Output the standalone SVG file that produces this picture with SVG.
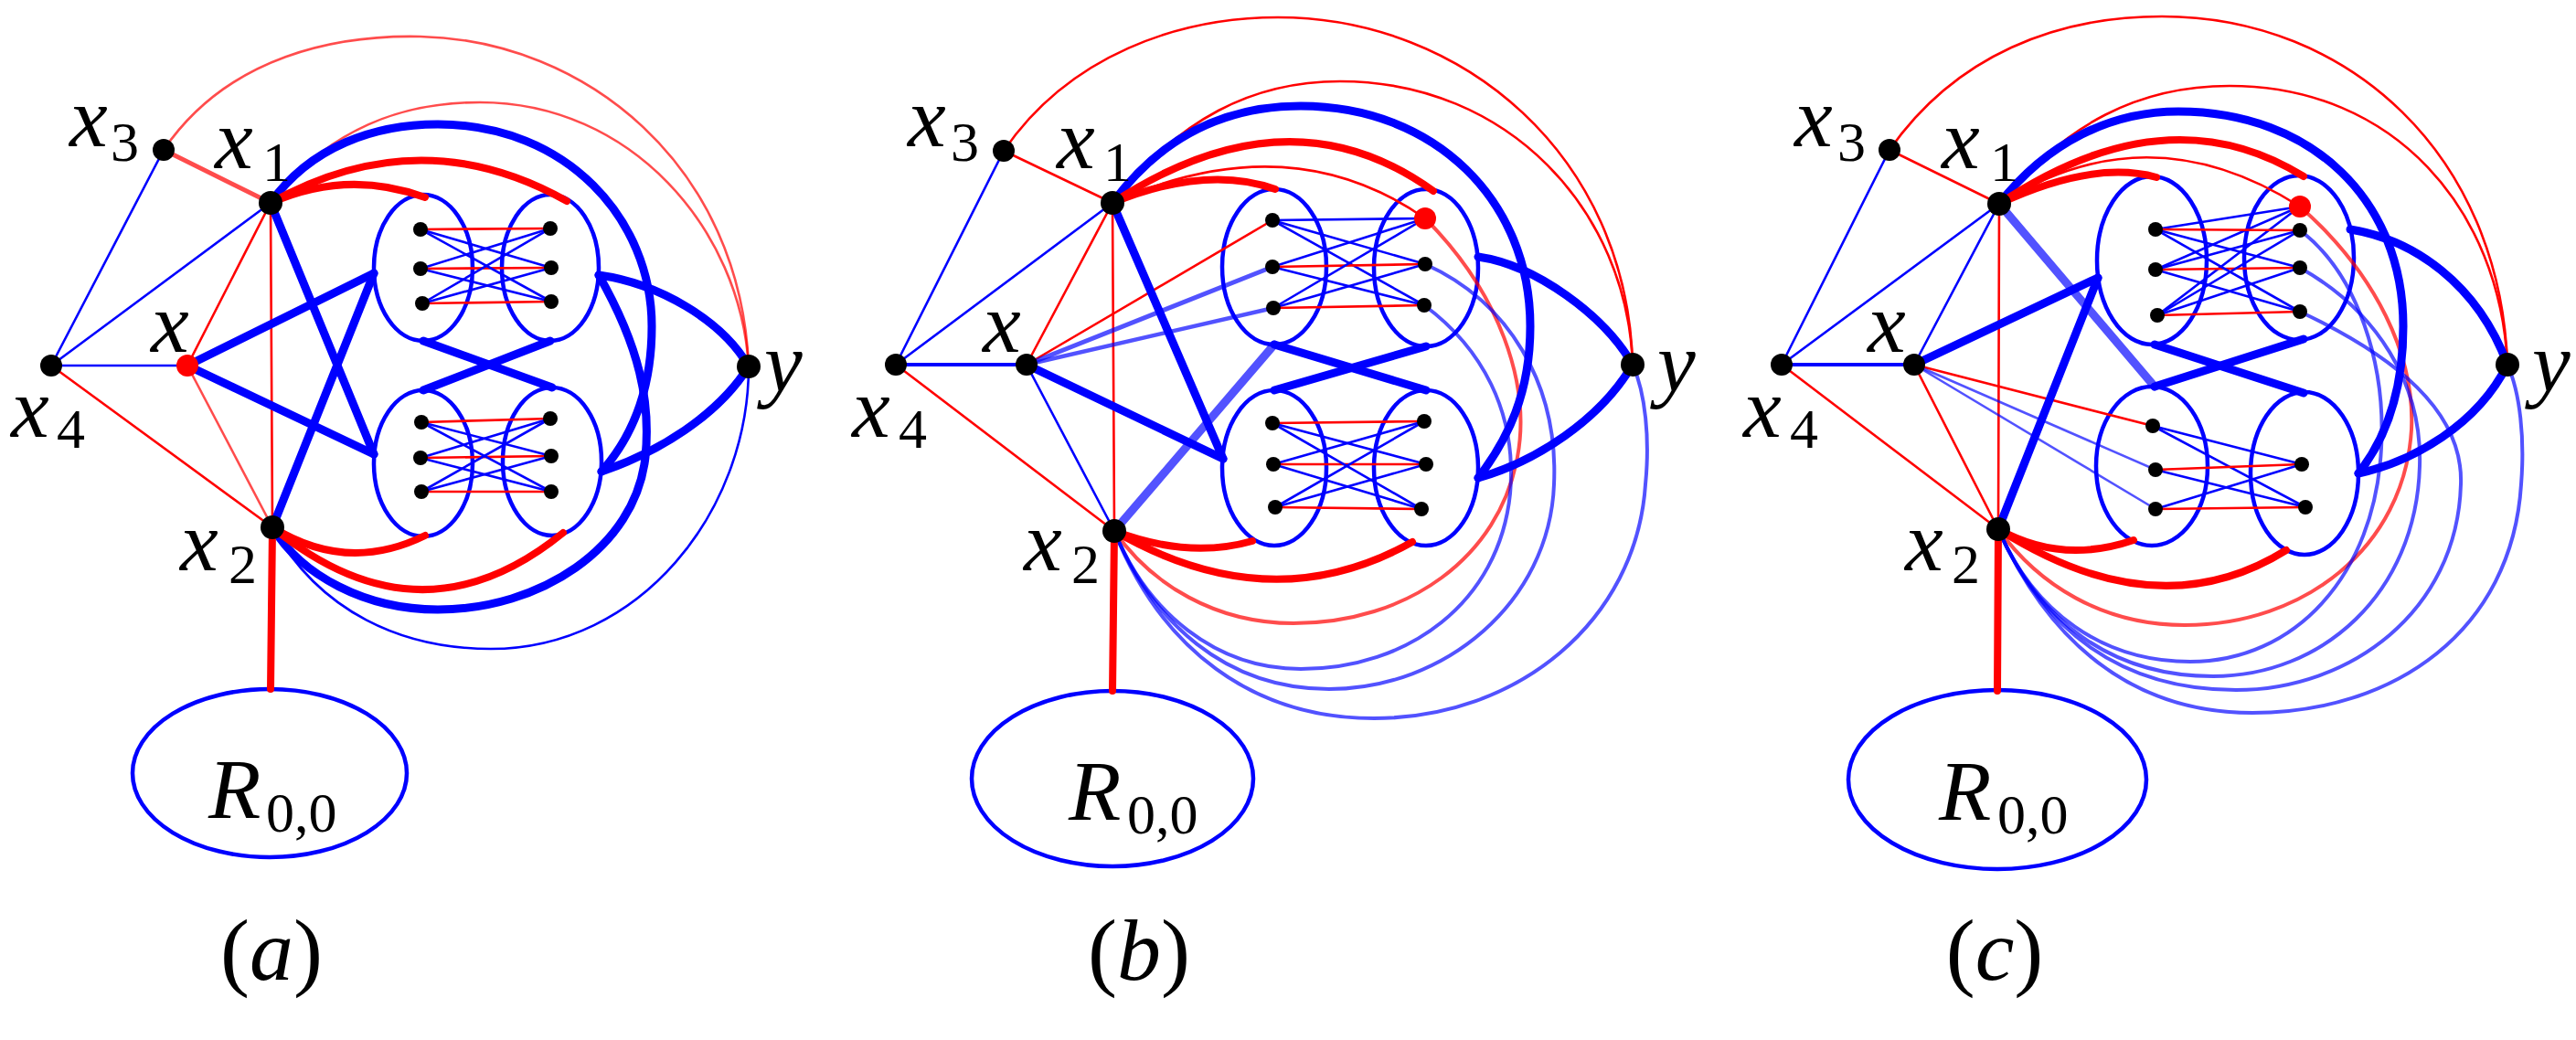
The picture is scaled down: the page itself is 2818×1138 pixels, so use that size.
<svg xmlns="http://www.w3.org/2000/svg" width="2818" height="1138" viewBox="0 0 2818 1138">
<style>
.b{stroke:#0000ff;fill:none;stroke-linecap:round}
.r{stroke:#ff0000;fill:none;stroke-linecap:round}
.lb{stroke:#0000ff;stroke-opacity:.68;fill:none;stroke-linecap:round}
.lr{stroke:#ff0000;stroke-opacity:.7;fill:none;stroke-linecap:round}
.t{stroke-width:2.6}
.m{stroke-width:4}
.k{stroke-width:9}
.kr{stroke-width:8}
.ell{fill:none;stroke:#0000ff;stroke-width:4.5}
.n{fill:#000}
.nr{fill:#ff0000}
text{font-family:'Liberation Serif','Times New Roman',serif;fill:#000}
.v{font-style:italic;font-size:94px}
.s{font-style:normal;font-size:62px}
.p{font-style:normal;font-size:96px}
</style>

<!-- ===================== PANEL A ===================== -->
<g id="panel-a">
<g id="a-ellipses">
<g id="a-UL"><ellipse class="ell" cx="463" cy="293" rx="54" ry="80"/></g>
<g id="a-UR"><ellipse class="ell" cx="602" cy="293" rx="53" ry="80"/></g>
<g id="a-LL"><ellipse class="ell" cx="463" cy="507" rx="54" ry="80"/></g>
<g id="a-LR"><ellipse class="ell" cx="604" cy="505" rx="54" ry="81"/></g>
<g id="a-R00"><ellipse class="ell" cx="295" cy="846" rx="150" ry="92"/>
<text class="v" x="228" y="895">R</text><text class="s" x="291" y="910">0,0</text></g>
</g>
<g id="a-connectors">
<line class="lr" stroke-width="5" x1="179" y1="164" x2="296" y2="222"/>
<line class="b t" x1="179" y1="164" x2="56" y2="400"/>
<line class="b t" x1="56" y1="400" x2="296" y2="222"/>
<line class="b t" x1="56" y1="400" x2="205" y2="400"/>
<line class="r t" x1="56" y1="400" x2="298" y2="577"/>
<line class="r t" x1="205" y1="400" x2="296" y2="222"/>
<line class="lr t" x1="205" y1="400" x2="298" y2="577"/>
<line class="r t" x1="296" y1="222" x2="298" y2="577"/>
<path class="lr t" d="M179,164 C250,60 370,38 460,40 C640,44 810,180 819,401"/>
<path class="lr t" d="M296,222 C360,140 440,112 525,112 C690,112 810,250 819,401"/>
<path class="b t" d="M298,577 C350,670 440,710 537,710 C700,710 819,560 819,401"/>
<path class="b k" d="M296,222 C340,160 410,136 479,136 C620,136 713,240 713,357 C713,430 690,480 658,516"/>
<path class="b k" d="M655,301 C700,380 712,440 706,500 C695,600 590,667 479,667 C400,667 330,630 298,577"/>
<path class="b k" d="M655,301 C720,310 790,350 819,401"/>
<path class="b k" d="M658,516 C720,495 785,455 819,401"/>
<path class="r kr" d="M296,222 Q380,185 465,216"/>
<path class="r kr" d="M296,222 Q460,130 620,220"/>
<path class="r kr" d="M298,577 Q380,628 465,586"/>
<path class="r kr" d="M298,577 Q460,710 616,583"/>
<line class="b k" x1="205" y1="400" x2="409" y2="299"/>
<line class="b k" x1="205" y1="400" x2="409" y2="497"/>
<line class="b k" x1="296" y1="222" x2="409" y2="497"/>
<line class="b k" x1="298" y1="577" x2="409" y2="299"/>
<line class="b k" x1="463" y1="373" x2="604" y2="424"/>
<line class="b k" x1="602" y1="373" x2="463" y2="427"/>
<line class="r kr" x1="298" y1="577" x2="296" y2="754"/>
<line class="r t" x1="460" y1="251" x2="602" y2="250"/>
<line class="r t" x1="460" y1="294" x2="603" y2="293"/>
<line class="r t" x1="462" y1="332" x2="603" y2="330"/>
<line class="b t" x1="460" y1="251" x2="603" y2="293"/>
<line class="b t" x1="460" y1="251" x2="603" y2="330"/>
<line class="b t" x1="460" y1="294" x2="602" y2="250"/>
<line class="b t" x1="460" y1="294" x2="603" y2="330"/>
<line class="b t" x1="462" y1="332" x2="602" y2="250"/>
<line class="b t" x1="462" y1="332" x2="603" y2="293"/>
<line class="r t" x1="461" y1="462" x2="602" y2="458"/>
<line class="r t" x1="460" y1="501" x2="603" y2="499"/>
<line class="r t" x1="461" y1="538" x2="603" y2="538"/>
<line class="b t" x1="461" y1="462" x2="603" y2="499"/>
<line class="b t" x1="461" y1="462" x2="603" y2="538"/>
<line class="b t" x1="460" y1="501" x2="602" y2="458"/>
<line class="b t" x1="460" y1="501" x2="603" y2="538"/>
<line class="b t" x1="461" y1="538" x2="602" y2="458"/>
<line class="b t" x1="461" y1="538" x2="603" y2="499"/>
</g>
<g id="a-dots">
<circle class="n" cx="460" cy="251" r="8"/><circle class="n" cx="460" cy="294" r="8"/><circle class="n" cx="462" cy="332" r="8"/>
<circle class="n" cx="602" cy="250" r="8"/><circle class="n" cx="603" cy="293" r="8"/><circle class="n" cx="603" cy="330" r="8"/>
<circle class="n" cx="461" cy="462" r="8"/><circle class="n" cx="460" cy="501" r="8"/><circle class="n" cx="461" cy="538" r="8"/>
<circle class="n" cx="602" cy="458" r="8"/><circle class="n" cx="603" cy="499" r="8"/><circle class="n" cx="603" cy="538" r="8"/>
</g>
<g id="a-x3"><circle class="n" cx="179" cy="164" r="12"/><text class="v" x="76" y="160">x</text><text class="s" x="121" y="176">3</text></g>
<g id="a-x1"><circle class="n" cx="296" cy="222" r="13"/><text class="v" x="235" y="184">x</text><text class="s" x="287" y="198">1</text></g>
<g id="a-x4"><circle class="n" cx="56" cy="400" r="12"/><text class="v" x="12" y="478">x</text><text class="s" x="62" y="490">4</text></g>
<g id="a-x"><circle class="nr" cx="205" cy="400" r="12"/><text class="v" x="165" y="385">x</text></g>
<g id="a-x2"><circle class="n" cx="298" cy="577" r="13"/><text class="v" x="197" y="624">x</text><text class="s" x="250" y="638">2</text></g>
<g id="a-y"><circle class="n" cx="819" cy="401" r="13"/><text class="v" x="836" y="428">y</text></g>
<text class="p" x="297" y="1072" text-anchor="middle">(<tspan font-style="italic">a</tspan>)</text>
</g>

<!-- ===================== PANEL B ===================== -->
<g id="panel-b">
<g id="b-ellipses">
<g id="b-UL"><ellipse class="ell" cx="1394" cy="292" rx="57" ry="85"/></g>
<g id="b-UR"><ellipse class="ell" cx="1560" cy="293" rx="57" ry="86"/></g>
<g id="b-LL"><ellipse class="ell" cx="1394" cy="512" rx="57" ry="85"/></g>
<g id="b-LR"><ellipse class="ell" cx="1560" cy="512" rx="57" ry="85"/></g>
<g id="b-R00"><ellipse class="ell" cx="1217" cy="852" rx="154" ry="96"/>
<text class="v" x="1169" y="897">R</text><text class="s" x="1233" y="912">0,0</text></g>
</g>
<g id="b-connectors">
<line class="r t" x1="1098" y1="165" x2="1217" y2="222"/>
<line class="b t" x1="1098" y1="165" x2="980" y2="399"/>
<line class="b t" x1="980" y1="399" x2="1217" y2="222"/>
<line class="b m" x1="980" y1="399" x2="1123" y2="399"/>
<line class="r t" x1="980" y1="399" x2="1219" y2="581"/>
<line class="r t" x1="1123" y1="399" x2="1217" y2="222"/>
<line class="b t" x1="1123" y1="399" x2="1219" y2="581"/>
<line class="r t" x1="1217" y1="222" x2="1219" y2="581"/>
<line class="r t" x1="1123" y1="399" x2="1392" y2="241"/>
<line class="lb" stroke-width="5" x1="1123" y1="399" x2="1392" y2="292"/>
<line class="lb" stroke-width="4.5" x1="1123" y1="399" x2="1393" y2="337"/>
<path class="r t" d="M1098,165 C1170,60 1290,19 1398,19 C1600,19 1780,170 1786,399"/>
<path class="r t" d="M1217,222 C1290,130 1370,89 1466,89 C1650,89 1780,230 1786,399"/>
<path class="r t" d="M1217,222 Q1410,135 1559,239"/>
<path class="lr m" d="M1559,239 C1640,320 1675,420 1660,500 C1640,610 1540,682 1415,682 C1330,682 1260,640 1219,581"/>
<path class="lb m" d="M1558,334 C1620,380 1660,450 1652,540 C1640,660 1540,732 1423,732 C1330,732 1255,670 1219,581"/>
<path class="lb m" d="M1559,289 C1650,330 1705,420 1700,530 C1695,660 1580,754 1454,754 C1340,754 1260,680 1219,581"/>
<path class="lb m" d="M1786,399 C1800,430 1805,480 1800,530 C1790,680 1660,786 1503,786 C1370,786 1270,710 1219,581"/>
<path class="b k" d="M1217,222 C1270,150 1340,116 1423,116 C1570,116 1674,220 1674,357 C1674,430 1650,480 1617,523"/>
<path class="b k" d="M1617,281 C1680,290 1755,345 1786,399"/>
<path class="b k" d="M1617,523 C1680,505 1750,460 1786,399"/>
<path class="r kr" d="M1217,222 Q1320,180 1395,207"/>
<path class="r kr" d="M1217,222 Q1410,95 1568,209"/>
<path class="r kr" d="M1219,581 Q1300,612 1370,592"/>
<path class="r kr" d="M1219,581 Q1390,680 1545,593"/>
<line class="b k" x1="1123" y1="399" x2="1338" y2="502"/>
<line class="b k" x1="1217" y1="222" x2="1338" y2="502"/>
<line class="lb k" x1="1219" y1="581" x2="1394" y2="377"/>
<line class="b k" x1="1394" y1="377" x2="1560" y2="427"/>
<line class="b k" x1="1560" y1="379" x2="1394" y2="427"/>
<line class="r kr" x1="1219" y1="581" x2="1217" y2="756"/>
<line class="b t" x1="1392" y1="241" x2="1559" y2="239"/>
<line class="b t" x1="1392" y1="241" x2="1559" y2="289"/>
<line class="b t" x1="1392" y1="241" x2="1558" y2="334"/>
<line class="b t" x1="1392" y1="292" x2="1559" y2="239"/>
<line class="r t" x1="1392" y1="292" x2="1559" y2="289"/>
<line class="b t" x1="1392" y1="292" x2="1558" y2="334"/>
<line class="b t" x1="1393" y1="337" x2="1559" y2="239"/>
<line class="b t" x1="1393" y1="337" x2="1559" y2="289"/>
<line class="r t" x1="1393" y1="337" x2="1558" y2="334"/>
<line class="r t" x1="1392" y1="463" x2="1558" y2="461"/>
<line class="r t" x1="1393" y1="508" x2="1560" y2="508"/>
<line class="r t" x1="1395" y1="555" x2="1555" y2="557"/>
<line class="b t" x1="1392" y1="463" x2="1560" y2="508"/>
<line class="b t" x1="1392" y1="463" x2="1555" y2="557"/>
<line class="b t" x1="1393" y1="508" x2="1558" y2="461"/>
<line class="b t" x1="1393" y1="508" x2="1555" y2="557"/>
<line class="b t" x1="1395" y1="555" x2="1558" y2="461"/>
<line class="b t" x1="1395" y1="555" x2="1560" y2="508"/>
</g>
<g id="b-dots">
<circle class="n" cx="1392" cy="241" r="8"/><circle class="n" cx="1392" cy="292" r="8"/><circle class="n" cx="1393" cy="337" r="8"/>
<circle class="nr" cx="1559" cy="239" r="12"/><circle class="n" cx="1559" cy="289" r="8"/><circle class="n" cx="1558" cy="334" r="8"/>
<circle class="n" cx="1392" cy="463" r="8"/><circle class="n" cx="1393" cy="508" r="8"/><circle class="n" cx="1395" cy="555" r="8"/>
<circle class="n" cx="1558" cy="461" r="8"/><circle class="n" cx="1560" cy="508" r="8"/><circle class="n" cx="1555" cy="557" r="8"/>
</g>
<g id="b-x3"><circle class="n" cx="1098" cy="165" r="12"/><text class="v" x="993" y="160">x</text><text class="s" x="1040" y="176">3</text></g>
<g id="b-x1"><circle class="n" cx="1217" cy="222" r="13"/><text class="v" x="1156" y="184">x</text><text class="s" x="1207" y="198">1</text></g>
<g id="b-x4"><circle class="n" cx="980" cy="399" r="12"/><text class="v" x="932" y="478">x</text><text class="s" x="983" y="490">4</text></g>
<g id="b-x"><circle class="n" cx="1123" cy="399" r="12"/><text class="v" x="1075" y="385">x</text></g>
<g id="b-x2"><circle class="n" cx="1219" cy="581" r="13"/><text class="v" x="1120" y="624">x</text><text class="s" x="1172" y="638">2</text></g>
<g id="b-y"><circle class="n" cx="1786" cy="399" r="13"/><text class="v" x="1813" y="428">y</text></g>
<text class="p" x="1246" y="1072" text-anchor="middle">(<tspan font-style="italic">b</tspan>)</text>
</g>

<!-- ===================== PANEL C ===================== -->
<g id="panel-c">
<g id="c-ellipses">
<g id="c-UL"><ellipse class="ell" cx="2354" cy="285" rx="60" ry="92"/></g>
<g id="c-UR"><ellipse class="ell" cx="2515" cy="282" rx="60" ry="90"/></g>
<g id="c-LL"><ellipse class="ell" cx="2354" cy="510" rx="61" ry="87"/></g>
<g id="c-LR"><ellipse class="ell" cx="2521" cy="518" rx="59" ry="89"/></g>
<g id="c-R00"><ellipse class="ell" cx="2185" cy="853" rx="163" ry="98"/>
<text class="v" x="2121" y="897">R</text><text class="s" x="2185" y="912">0,0</text></g>
</g>
<g id="c-connectors">
<line class="r t" x1="2067" y1="164" x2="2187" y2="223"/>
<line class="b t" x1="2067" y1="164" x2="1949" y2="399"/>
<line class="b t" x1="1949" y1="399" x2="2187" y2="223"/>
<line class="b m" x1="1949" y1="399" x2="2094" y2="399"/>
<line class="r t" x1="1949" y1="399" x2="2186" y2="579"/>
<line class="b t" x1="2094" y1="399" x2="2187" y2="223"/>
<line class="r t" x1="2094" y1="399" x2="2186" y2="579"/>
<line class="r t" x1="2187" y1="223" x2="2186" y2="579"/>
<line class="r t" x1="2094" y1="399" x2="2355" y2="466"/>
<line class="lb t" x1="2094" y1="399" x2="2358" y2="514"/>
<line class="lb t" x1="2094" y1="399" x2="2358" y2="557"/>
<path class="r t" d="M2067,164 C2140,60 2250,18 2365,18 C2570,18 2735,170 2743,399"/>
<path class="r t" d="M2187,223 C2260,135 2340,94 2439,94 C2620,94 2735,230 2743,399"/>
<path class="r t" d="M2187,223 Q2350,120 2516,226"/>
<path class="lr m" d="M2516,226 C2600,300 2642,390 2638,470 C2630,600 2520,684 2390,684 C2300,684 2230,640 2186,579"/>
<path class="lb m" d="M2516,252 C2580,300 2610,400 2605,490 C2598,630 2510,724 2396,724 C2300,724 2225,670 2186,579"/>
<path class="lb m" d="M2516,293 C2600,340 2650,420 2647,510 C2643,650 2540,740 2421,740 C2310,740 2230,680 2186,579"/>
<path class="lb m" d="M2516,341 C2620,390 2695,450 2692,530 C2688,670 2570,755 2446,755 C2320,755 2235,690 2186,579"/>
<path class="lb m" d="M2743,399 C2757,430 2762,480 2758,530 C2748,690 2620,780 2464,780 C2330,780 2240,700 2186,579"/>
<path class="b k" d="M2187,223 C2240,155 2310,122 2383,122 C2530,122 2629,220 2629,357 C2629,430 2610,480 2580,518"/>
<path class="b k" d="M2571,251 C2640,262 2710,310 2743,399"/>
<path class="b k" d="M2580,518 C2640,505 2710,465 2743,399"/>
<path class="r kr" d="M2187,223 Q2290,175 2359,194"/>
<path class="r kr" d="M2187,223 Q2370,100 2520,193"/>
<path class="r kr" d="M2186,579 Q2255,618 2334,591"/>
<path class="r kr" d="M2186,579 Q2360,690 2501,602"/>
<line class="b k" x1="2094" y1="399" x2="2295" y2="304"/>
<line class="b k" x1="2186" y1="579" x2="2295" y2="304"/>
<line class="lb k" x1="2187" y1="223" x2="2357" y2="423"/>
<line class="b k" x1="2357" y1="377" x2="2520" y2="430"/>
<line class="b k" x1="2520" y1="371" x2="2357" y2="423"/>
<line class="r kr" x1="2186" y1="579" x2="2185" y2="756"/>
<line class="b t" x1="2358" y1="251" x2="2516" y2="226"/>
<line class="b t" x1="2358" y1="295" x2="2516" y2="226"/>
<line class="b t" x1="2360" y1="345" x2="2516" y2="226"/>
<line class="r t" x1="2358" y1="251" x2="2516" y2="252"/>
<line class="r t" x1="2358" y1="295" x2="2516" y2="293"/>
<line class="r t" x1="2360" y1="345" x2="2516" y2="341"/>
<line class="b t" x1="2358" y1="251" x2="2516" y2="293"/>
<line class="b t" x1="2358" y1="251" x2="2516" y2="341"/>
<line class="b t" x1="2358" y1="295" x2="2516" y2="252"/>
<line class="b t" x1="2358" y1="295" x2="2516" y2="341"/>
<line class="b t" x1="2360" y1="345" x2="2516" y2="252"/>
<line class="b t" x1="2360" y1="345" x2="2516" y2="293"/>
<line class="b t" x1="2355" y1="466" x2="2518" y2="508"/>
<line class="b t" x1="2355" y1="466" x2="2522" y2="555"/>
<line class="r t" x1="2358" y1="514" x2="2518" y2="508"/>
<line class="b t" x1="2358" y1="514" x2="2522" y2="555"/>
<line class="b t" x1="2358" y1="557" x2="2518" y2="508"/>
<line class="r t" x1="2358" y1="557" x2="2522" y2="555"/>
</g>
<g id="c-dots">
<circle class="n" cx="2358" cy="251" r="8"/><circle class="n" cx="2358" cy="295" r="8"/><circle class="n" cx="2360" cy="345" r="8"/>
<circle class="nr" cx="2516" cy="226" r="12"/><circle class="n" cx="2516" cy="252" r="8"/><circle class="n" cx="2516" cy="293" r="8"/><circle class="n" cx="2516" cy="341" r="8"/>
<circle class="n" cx="2355" cy="466" r="8"/><circle class="n" cx="2358" cy="514" r="8"/><circle class="n" cx="2358" cy="557" r="8"/>
<circle class="n" cx="2518" cy="508" r="8"/><circle class="n" cx="2522" cy="555" r="8"/>
</g>
<g id="c-x3"><circle class="n" cx="2067" cy="164" r="12"/><text class="v" x="1963" y="160">x</text><text class="s" x="2010" y="176">3</text></g>
<g id="c-x1"><circle class="n" cx="2187" cy="223" r="13"/><text class="v" x="2124" y="184">x</text><text class="s" x="2177" y="198">1</text></g>
<g id="c-x4"><circle class="n" cx="1949" cy="399" r="12"/><text class="v" x="1907" y="478">x</text><text class="s" x="1958" y="490">4</text></g>
<g id="c-x"><circle class="n" cx="2094" cy="399" r="12"/><text class="v" x="2043" y="385">x</text></g>
<g id="c-x2"><circle class="n" cx="2186" cy="579" r="13"/><text class="v" x="2084" y="624">x</text><text class="s" x="2135" y="638">2</text></g>
<g id="c-y"><circle class="n" cx="2743" cy="399" r="13"/><text class="v" x="2770" y="428">y</text></g>
<text class="p" x="2182" y="1072" text-anchor="middle">(<tspan font-style="italic">c</tspan>)</text>
</g>
</svg>
